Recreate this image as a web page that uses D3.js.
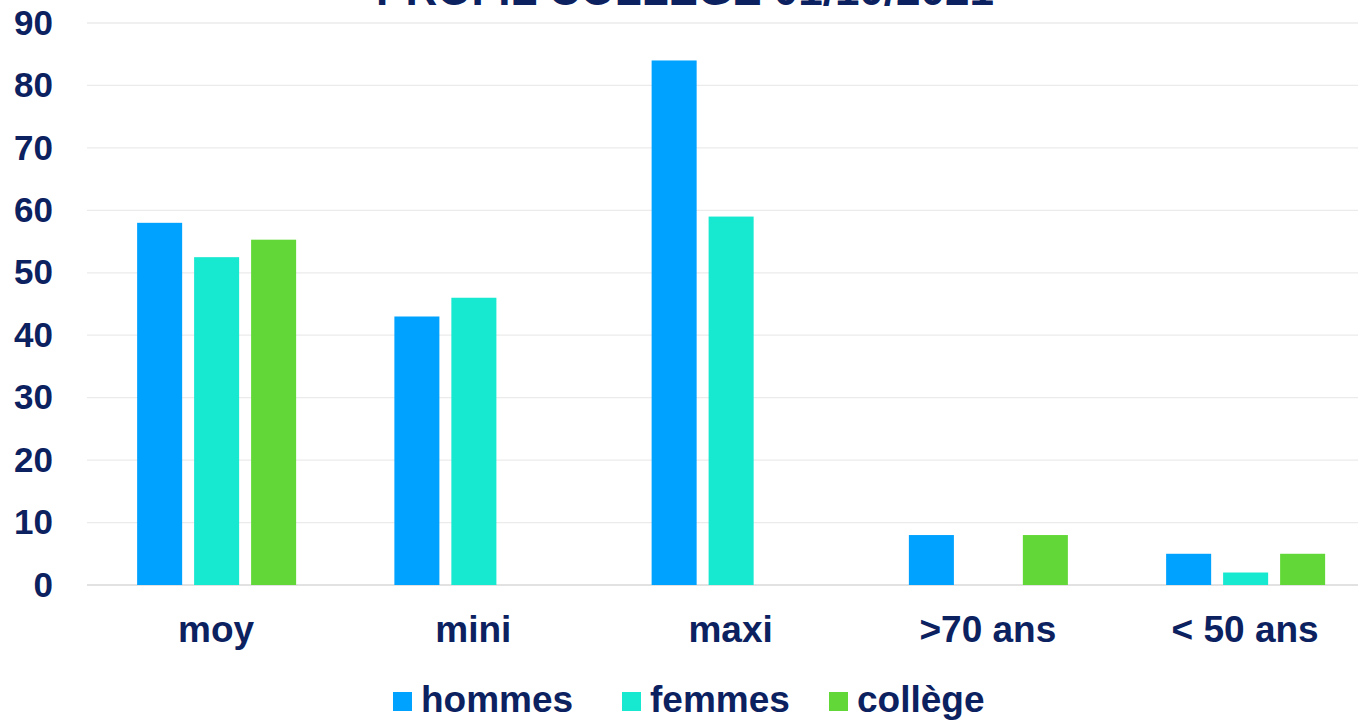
<!DOCTYPE html>
<html>
<head>
<meta charset="utf-8">
<script src="https://cdn.jsdelivr.net/npm/d3@7"></script>
<style>
  body { margin: 0; background: #fff; }
  svg { display: block; font-family: "Liberation Sans", Arial, sans-serif; font-weight: bold; }
</style>
</head>
<body>
<svg id="chart" width="1358" height="722"></svg>
<script>
// data
var categories = ["moy", "mini", "maxi", ">70 ans", "< 50 ans"];
var seriesNames = ["hommes", "femmes", "collège"];
var hommes = [58, 43, 84, 8, 5];
var femmes = [52.5, 46, 59, 0, 2];
var college = [55.3, 0, 0, 8, 5];
var yTicks = [0, 10, 20, 30, 40, 50, 60, 70, 80, 90];
var colors = ["#00a2ff", "#17e8d0", "#62d838"];
var title = "PROFIL COLLEGE 01/10/2021";

var svg = d3.select("#chart");
var navy = "#0c2160";

var x = d3.scaleBand().domain(categories).range([87.5, 1373.75]);
var inner = d3.scaleBand().domain(seriesNames).range([0, 159]).paddingInner(0.21);
var y = d3.scaleLinear().domain([0, 90]).range([585, 23]);

// gridlines
svg.append("g").selectAll("line")
    .data(yTicks)
    .enter().append("line")
    .attr("x1", 87).attr("x2", 1358)
    .attr("y1", function(d) { return y(d); })
    .attr("y2", function(d) { return y(d); })
    .attr("stroke", function(d) { return d === 0 ? "#d9d9d9" : "#ebebeb"; })
    .attr("stroke-width", 1.3);

// y axis labels
var yAxis = d3.axisLeft(y).tickValues(yTicks).tickSize(0).tickPadding(0);
var ya = svg.append("g").attr("transform", "translate(53,0)").call(yAxis);
ya.select(".domain").remove();
ya.selectAll("text")
    .attr("fill", navy)
    .style("font-size", "35px")
    .style("font-family", "'Liberation Sans', Arial, sans-serif")
    .style("font-weight", "bold");

// bars
var series = [hommes, femmes, college];
var rows = [];
series.forEach(function(vals, s) {
    vals.forEach(function(v, i) {
        if (v > 0) rows.push({ cat: categories[i], name: seriesNames[s], value: v, color: colors[s] });
    });
});

svg.append("g").selectAll("rect")
    .data(rows)
    .enter().append("rect")
    .attr("x", function(d) { return x(d.cat) + x.bandwidth() / 2 - 79 + inner(d.name); })
    .attr("width", inner.bandwidth())
    .attr("y", function(d) { return y(d.value); })
    .attr("height", function(d) { return y(0) - y(d.value); })
    .attr("fill", function(d) { return d.color; });

// category labels
var xAxis = d3.axisBottom(x).tickSize(0).tickPadding(0);
var xa = svg.append("g").attr("transform", "translate(0,616)").call(xAxis);
xa.select(".domain").remove();
xa.selectAll("text")
    .attr("fill", navy)
    .style("font-size", "37px")
    .style("font-family", "'Liberation Sans', Arial, sans-serif")
    .style("font-weight", "bold");

// title (cut off at the top, as in the source image)
svg.append("text")
    .attr("x", 685).attr("y", 5)
    .attr("text-anchor", "middle")
    .attr("fill", navy)
    .style("font-size", "44px")
    .text(title);

// legend
var legendX = [393, 622, 829];
var legend = svg.append("g").selectAll("g")
    .data(seriesNames)
    .enter().append("g")
    .attr("transform", function(d, i) { return "translate(" + legendX[i] + ",0)"; });
legend.append("rect")
    .attr("x", 0).attr("y", 692)
    .attr("width", 19).attr("height", 19)
    .attr("fill", function(d, i) { return colors[i]; });
legend.append("text")
    .attr("x", 28).attr("y", 712)
    .attr("fill", navy)
    .style("font-size", "37px")
    .text(function(d) { return d; });
</script>
</body>
</html>
